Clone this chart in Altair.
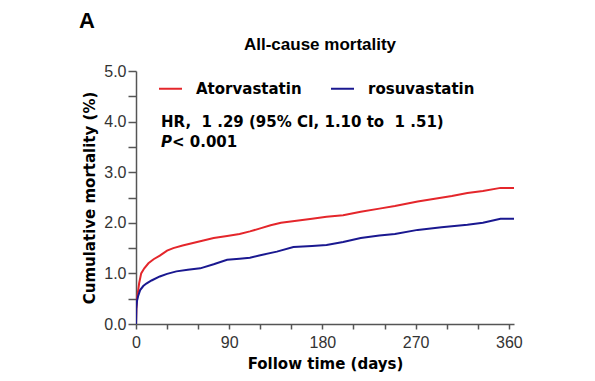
import altair as alt
import pandas as pd

# Data
series_names = ["Atorvastatin", "rosuvastatin"]

ator_days = [0, 0.3, 1, 2, 3, 5, 8, 12, 17, 23, 30, 36, 45, 55, 65, 75, 88, 100, 110, 120,
             130, 140, 155, 170, 184, 200, 217, 235, 250, 272, 290, 305, 320, 335, 352, 365]
ator_vals = [0, 0.30, 0.50, 0.65, 0.80, 1.00, 1.10, 1.20, 1.28, 1.35, 1.45, 1.50, 1.55, 1.60, 1.65,
             1.70, 1.74, 1.78, 1.83, 1.89, 1.95, 2.00, 2.04, 2.08, 2.12, 2.15, 2.22, 2.28, 2.33,
             2.42, 2.48, 2.53, 2.59, 2.63, 2.69, 2.69]

rosu_days = [0, 0.3, 1, 2, 4, 7, 10, 15, 23, 30, 39, 50, 62, 75, 88, 100, 110, 120, 136, 152,
             170, 184, 200, 217, 235, 250, 272, 295, 320, 335, 352, 365]
rosu_vals = [0, 0.30, 0.46, 0.55, 0.67, 0.75, 0.80, 0.86, 0.94, 0.99, 1.04, 1.07, 1.10, 1.18, 1.27,
             1.29, 1.31, 1.36, 1.43, 1.52, 1.54, 1.56, 1.62, 1.70, 1.75, 1.78, 1.86, 1.91, 1.96,
             2.00, 2.08, 2.08]

x_ticks = [0, 30, 60, 90, 120, 150, 180, 210, 240, 270, 300, 330, 360]
y_ticks = [0, 0.5, 1, 1.5, 2, 2.5, 3, 3.5, 4, 4.5, 5]

panel_label = "A"
title_text = "All-cause mortality"
hr_text = "HR,\u00a0\u00a01\u00a0.29 (95% CI, 1.10 to\u00a0\u00a01\u00a0.51)"
p_letter = "P"
p_text = "< 0.001"

colors = ["#e4262b", "#1a1890"]

df = pd.concat([
    pd.DataFrame({"day": ator_days, "val": ator_vals, "group": series_names[0]}),
    pd.DataFrame({"day": rosu_days, "val": rosu_vals, "group": series_names[1]}),
])

W, H = 378, 253
BOLD = "DejaVu Sans"
ARIAL = "Liberation Sans"

lines = alt.Chart(df).mark_line(strokeWidth=2, interpolate="linear", clip=True).encode(
    x=alt.X("day:Q", scale=alt.Scale(domain=[0, 365], nice=False, zero=True),
            axis=alt.Axis(values=x_ticks,
                          labelExpr="datum.value % 90 === 0 ? datum.label : ''",
                          title="Follow time (days)", grid=False, tickSize=5,
                          labelFlush=False, labelOverlap=False,
                          labelPadding=5, titlePadding=6)),
    y=alt.Y("val:Q", scale=alt.Scale(domain=[0, 5], nice=False),
            axis=alt.Axis(values=y_ticks,
                          labelExpr="datum.value % 1 === 0 ? format(datum.value, '.1f') : ''",
                          title="Cumulative mortality (%)", grid=False, tickSize=8,
                          labelFlush=False, labelOverlap=False,
                          labelPadding=2, titlePadding=6)),
    color=alt.Color("group:N", scale=alt.Scale(domain=series_names, range=colors),
                    legend=alt.Legend(orient="none", legendX=22, legendY=5, direction="horizontal",
                                      title=None, symbolType="stroke", symbolSize=529,
                                      symbolStrokeWidth=2, labelFont=BOLD, labelFontSize=15,
                                      labelFontWeight="bold", labelColor="#000",
                                      labelOffset=13, columnPadding=25, labelLimit=300)),
)

def txt(text, x, y, font=BOLD, size=15, style="normal", align="left"):
    return alt.Chart(pd.DataFrame({"t": [text]})).mark_text(
        font=font, fontSize=size, fontWeight="bold", fontStyle=style, align=align,
        baseline="alphabetic", color="#000"
    ).encode(text="t:N", x=alt.value(x), y=alt.value(y))

layers = [
    lines,
    txt(hr_text, 25, 55.5),
    txt(p_letter, 25, 75.5, style="italic"),
    txt(p_text, 36, 75.5),
    txt(title_text, W / 2 - 5, -21, font=ARIAL, size=17, align="center"),
    txt(panel_label, -57, -43, font=ARIAL, size=22),
]

chart = alt.layer(*layers).properties(
    width=W, height=H,
    autosize=alt.AutoSizeParams(type="none"),
    padding={"left": 128, "top": 63, "right": 73, "bottom": 49},
).configure_view(stroke=None).configure_axis(
    domainColor="#555", domainWidth=1.5, tickColor="#555", tickWidth=1.5,
    labelFont=ARIAL, labelFontSize=16, labelColor="#333",
    titleFont=BOLD, titleFontSize=15, titleFontWeight="bold", titleColor="#000",
)

chart.save("out.html", embed_options={"renderer": "svg", "actions": False})
